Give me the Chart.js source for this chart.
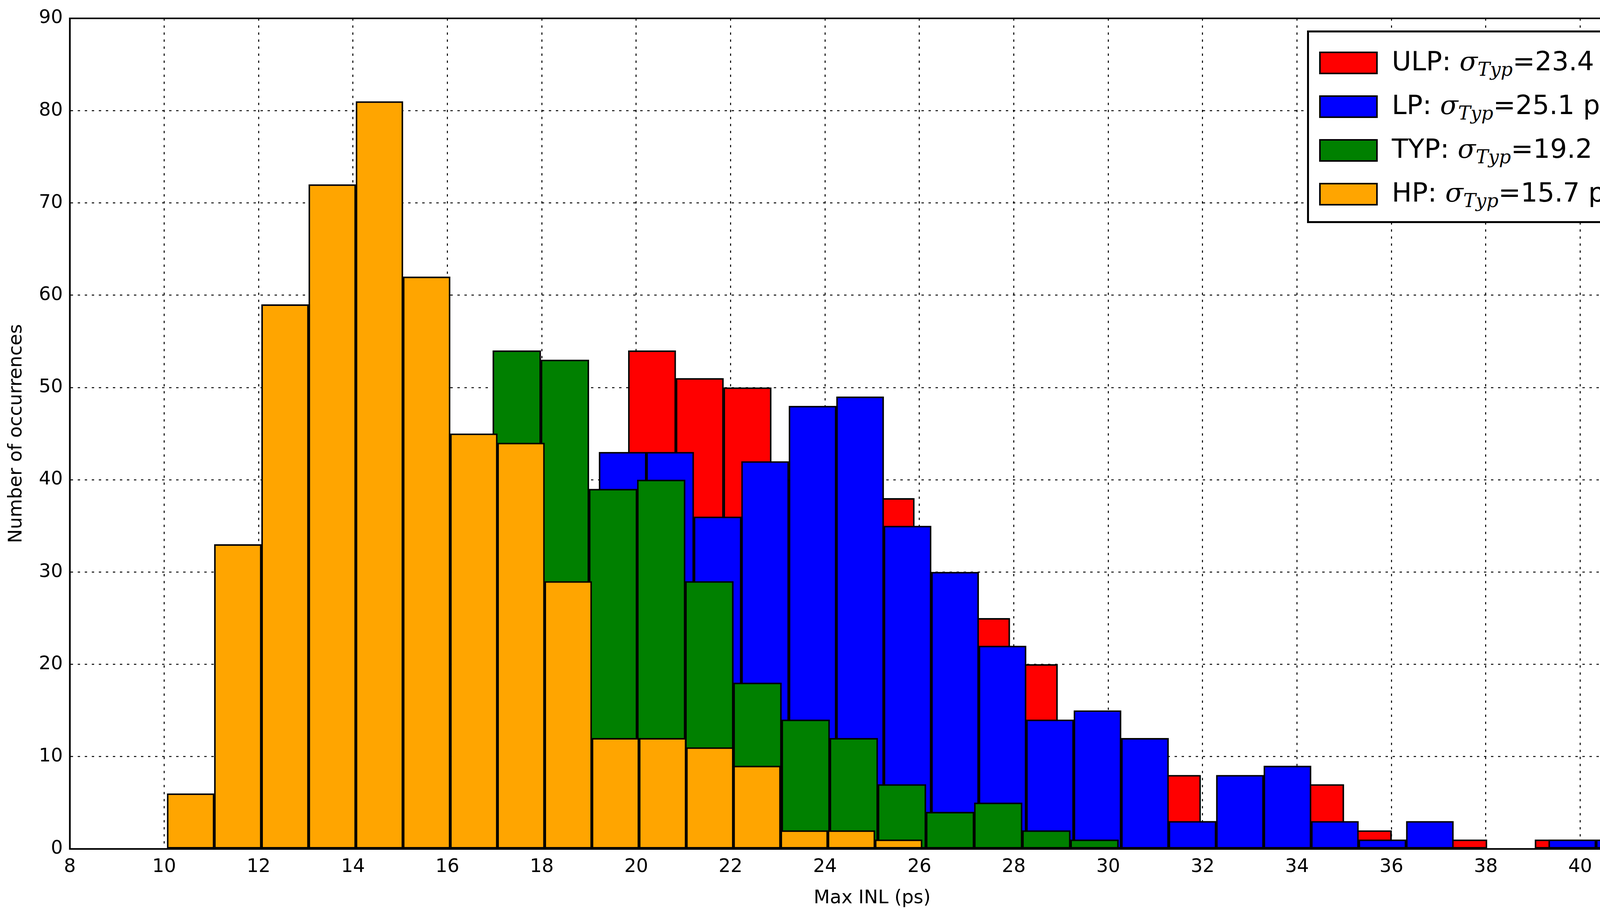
<!DOCTYPE html>
<html><head><meta charset="utf-8">
<script src="https://cdn.jsdelivr.net/npm/chart.js@4/dist/chart.umd.min.js"></script>
<style>
html,body{margin:0;padding:0;background:#fff;overflow:hidden;}
#wrap{position:relative;width:4342px;height:2342px;}
#c{width:4342px;height:2342px;display:block;}
#legend{position:absolute;left:3346px;top:78px;width:906px;height:493px;border:5px solid #000;background:#fff;box-sizing:border-box;font-family:"DejaVu Sans",sans-serif;font-size:68px;padding:22px 0 0 26px;}
.row{display:flex;align-items:center;height:112px;white-space:nowrap;}
.sw{width:150px;height:58px;border:4px solid #000;box-sizing:border-box;margin-right:36px;flex:none;}
.sig{font-family:"DejaVu Serif",serif;font-style:italic;}
.sub{font-family:"DejaVu Serif",serif;font-style:italic;font-size:48px;vertical-align:-14px;}
</style></head><body>
<div id="wrap"><canvas id="c" width="4342" height="2342"></canvas>
<div id="legend"></div></div>
<script>
const seriesNames = ["ULP","LP","TYP","HP"];
const sigmaTyp = ["23.4","25.1","19.2","15.7"];
const colors = ["#ff0000","#0000ff","#008000","#ffa500"];
const binStart = [19.83, 19.21, 16.96, 10.06];
const binWidth = [1.011, 1.006, 1.02, 1.0];
const ulpValues = [54,51,50,40,45,38,30,25,20,12,10,8,3,6,7,2,1,1,0,1];
const lpValues = [43,43,36,42,48,49,35,30,22,14,15,12,3,8,9,3,1,3,0,0,1,1];
const typValues = [54,53,39,40,29,18,14,12,7,4,5,2,1];
const hpValues = [6,33,59,72,81,62,45,44,29,12,12,11,9,2,2,1];
const allValues = [ulpValues, lpValues, typValues, hpValues];
const xTicks = [8,10,12,14,16,18,20,22,24,26,28,30,32,34,36,38,40,42];
const yTicks = [0,10,20,30,40,50,60,70,80,90];

const datasets = allValues.map((vals, s) => ({
  label: seriesNames[s],
  data: vals.map((v, i) => ({x: binStart[s] + (i + 0.5) * binWidth[s], y: v === 0 ? null : v})),
  backgroundColor: colors[s],
  borderColor: '#000',
  borderWidth: 4,
  borderSkipped: false,
  barPercentage: 1,
  categoryPercentage: 1,
  grouped: false,
  xAxisID: 'x' + s,
  order: 3 - s
}));

const scales = {};
for (let s = 0; s < 4; s++) {
  scales['x' + s] = {
    type: 'linear', min: 8, max: 42, display: s === 0, offset: false,
    afterBuildTicks: ax => { ax.ticks = xTicks.map(v => ({value: v})); },
    grid: {color: '#000', lineWidth: 2.5, drawTicks: false, offset: false},
    border: {display: true, color: '#000', width: 4, dash: [6, 12]},
    ticks: {color: '#000', font: {family: 'DejaVu Sans', size: 48}, padding: 18},
    title: {display: s === 0, text: 'Max INL (ps)', color: '#000', font: {family: 'DejaVu Sans', size: 48}, padding: {top: 4}}
  };
}
scales.y = {
  min: 0, max: 90,
  afterBuildTicks: ax => { ax.ticks = yTicks.map(v => ({value: v})); },
  grid: {color: '#000', lineWidth: 2.5, drawTicks: false},
  border: {display: true, color: '#000', width: 4, dash: [6, 12]},
  ticks: {color: '#000', font: {family: 'DejaVu Sans', size: 48}, padding: 18},
  title: {display: true, text: 'Number of occurrences', color: '#000', font: {family: 'DejaVu Sans', size: 48}, padding: {bottom: 10}}
};

const frame = {
  id: 'frame',
  afterDatasetsDraw(chart) {
    const {ctx, chartArea: a} = chart;
    ctx.save(); ctx.strokeStyle = '#000'; ctx.lineWidth = 4; ctx.setLineDash([]);
    ctx.strokeRect(a.left, a.top, a.right - a.left, a.bottom - a.top);
    ctx.restore();
  }
};

new Chart(document.getElementById('c'), {
  type: 'bar',
  data: {datasets},
  options: {
    responsive: false, animation: false, devicePixelRatio: 1,
    layout: {padding: {left: 10, right: 55, top: 47, bottom: 10}},
    plugins: {legend: {display: false}, tooltip: {enabled: false}},
    scales
  },
  plugins: [frame]
});

document.getElementById('legend').innerHTML = seriesNames.map((n, s) =>
  `<div class="row"><div class="sw" style="background:${colors[s]}"></div><span>${n}: <span class="sig">σ</span><span class="sub">Typ</span>=${sigmaTyp[s]} ps</span></div>`).join('');
</script></body></html>
